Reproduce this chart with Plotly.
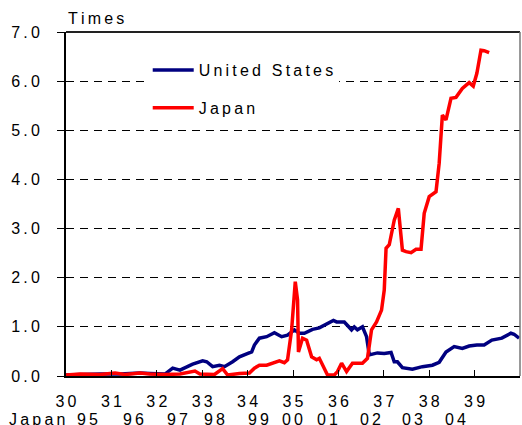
import plotly.graph_objects as go

THIN = "\u2009"


def spaced(s):
    # the reference text is letter-spaced; mimic with thin spaces
    return THIN.join(s)


# United States (x = Japanese era year scale, 30..40)
us_year = [30.0, 30.31, 30.75, 31.19, 31.63, 31.85, 32.07, 32.18, 32.35, 32.51,
           32.79, 33.01, 33.10, 33.23, 33.38, 33.49, 33.67, 33.82, 33.98, 34.09,
           34.15, 34.26, 34.42, 34.59, 34.75, 34.88, 35.03, 35.14, 35.25, 35.43,
           35.58, 35.76, 35.89, 35.96, 36.13, 36.29, 36.35, 36.42, 36.53, 36.62,
           36.68, 36.86, 37.01, 37.16, 37.23, 37.30, 37.41, 37.63, 37.85, 38.07,
           38.22, 38.37, 38.55, 38.73, 38.88, 39.05, 39.21, 39.38, 39.60, 39.80,
           39.87, 39.98]
us_ratio = [0.02, 0.03, 0.04, 0.04, 0.06, 0.05, 0.04, 0.04, 0.16, 0.12,
            0.24, 0.31, 0.29, 0.19, 0.22, 0.19, 0.29, 0.39, 0.45, 0.49,
            0.63, 0.77, 0.80, 0.88, 0.80, 0.83, 0.94, 0.87, 0.87, 0.95,
            0.98, 1.06, 1.13, 1.10, 1.10, 0.94, 1.00, 0.94, 1.00, 0.80,
            0.43, 0.47, 0.46, 0.48, 0.29, 0.29, 0.17, 0.14, 0.19, 0.22,
            0.28, 0.49, 0.60, 0.56, 0.61, 0.63, 0.63, 0.73, 0.77, 0.87,
            0.85, 0.77]

# Japan
jp_year = [30.0, 30.31, 30.75, 31.08, 31.30, 31.63, 31.85, 32.18, 32.51, 32.84,
           32.95, 33.27, 33.45, 33.56, 33.82, 34.04, 34.15, 34.26, 34.42, 34.55,
           34.70, 34.81, 34.88, 34.97, 35.05, 35.10, 35.12, 35.21, 35.30, 35.41,
           35.52, 35.58, 35.69, 35.76, 35.91, 35.98, 36.07, 36.18, 36.31, 36.53,
           36.64, 36.73, 36.84, 36.95, 37.01, 37.05, 37.12, 37.23, 37.32, 37.41,
           37.49, 37.60, 37.71, 37.82, 37.89, 38.00, 38.15, 38.22, 38.29, 38.37,
           38.48, 38.59, 38.73, 38.88, 38.97, 39.05, 39.14, 39.21, 39.32]
jp_ratio = [0.02, 0.04, 0.03, 0.06, 0.03, 0.06, 0.04, 0.03, 0.04, 0.10,
            0.04, 0.03, 0.15, 0.02, 0.05, 0.06, 0.16, 0.22, 0.22, 0.26,
            0.31, 0.27, 0.33, 0.94, 1.92, 1.55, 0.49, 0.77, 0.73, 0.39,
            0.33, 0.36, 0.16, 0.02, 0.02, 0.09, 0.26, 0.09, 0.26, 0.26,
            0.36, 0.94, 1.10, 1.34, 1.75, 2.60, 2.67, 3.17, 3.41, 2.56,
            2.53, 2.51, 2.58, 2.58, 3.31, 3.65, 3.75, 4.33, 5.31, 5.21,
            5.65, 5.67, 5.85, 5.97, 5.90, 6.16, 6.63, 6.62, 6.58]

X_MIN, X_MAX = 30, 40
y_ticks = [0, 1, 2, 3, 4, 5, 6, 7]
x_ticks = [30, 31, 32, 33, 34, 35, 36, 37, 38, 39]
x_tick_labels = ["30", "31", "32", "33", "34", "35", "36", "37", "38", "39"]
us_row_labels = ["Japan", "95", "96", "97", "98", "99", "00", "01", "02", "03", "04"]
us_row_pos = [29.37, 30.48, 31.49, 32.46, 33.27, 34.24, 34.99, 35.76, 36.70, 37.63, 38.57]

FONT = "Liberation Sans, Arial, sans-serif"
NAVY = "#000080"
RED = "#FF0000"

fig = go.Figure()
fig.add_trace(go.Scatter(
    x=us_year, y=us_ratio, mode="lines", name=spaced("United States"),
    legendgroup="us", line=dict(color=NAVY, width=3.5),
))
fig.add_trace(go.Scatter(
    x=jp_year, y=jp_ratio, mode="lines", name=spaced("Japan"),
    legendgroup="jp", line=dict(color=RED, width=3.5),
))

annotations = [dict(
    text=spaced("Times"), xref="paper", yref="paper", x=0.0, y=1.04,
    xanchor="left", yanchor="middle", showarrow=False,
    font=dict(size=16, color="black", family=FONT),
)]
# second row of x labels; paper coords so "Japan" left of the axis still shows
for lab, pos in zip(us_row_labels, us_row_pos):
    annotations.append(dict(
        text=spaced(lab), xref="paper", yref="paper",
        x=(pos - X_MIN) / (X_MAX - X_MIN), y=-0.127,
        xanchor="center", yanchor="middle", showarrow=False,
        font=dict(size=16, color="black", family=FONT),
    ))

fig.update_layout(
    width=522, height=425,
    paper_bgcolor="white", plot_bgcolor="white",
    font=dict(family=FONT, size=16, color="black"),
    margin=dict(l=66, r=2, t=32, b=49, autoexpand=False),
    showlegend=True,
    legend=dict(
        x=0.18, y=0.939, xanchor="left", yanchor="top",
        bgcolor="white", borderwidth=0, tracegroupgap=14, itemwidth=41,
        font=dict(size=16, color="black", family=FONT),
    ),
    xaxis=dict(
        range=[X_MIN, X_MAX], tickvals=x_ticks,
        ticktext=[spaced(t) for t in x_tick_labels],
        ticks="inside", ticklen=6, tickcolor="black", tickwidth=1,
        showgrid=False, zeroline=False, automargin=False,
        showline=True, linecolor="black", linewidth=2,
        ticklabelstandoff=10, tickfont=dict(size=16),
    ),
    yaxis=dict(
        range=[0, 7], tickvals=y_ticks,
        ticktext=[spaced(f"{v:.1f}") for v in y_ticks],
        ticks="outside", ticklen=7, tickcolor="black", tickwidth=1,
        showgrid=True, gridcolor="black", gridwidth=1, griddash="8px,6px",
        zeroline=False, automargin=False,
        showline=True, linecolor="black", linewidth=2,
        ticklabelstandoff=14, tickfont=dict(size=16),
    ),
    shapes=[
        dict(type="line", xref="paper", yref="paper", x0=0, x1=1, y0=1, y1=1,
             line=dict(color="#222222", width=2)),
        dict(type="line", xref="paper", yref="paper", x0=1, x1=1, y0=0, y1=1,
             line=dict(color="#777777", width=1.5)),
    ],
    annotations=annotations,
)

# the page's default body margin would shift the figure by 8px
fig.write_html("out.html", config={"displayModeBar": False},
               post_script="document.body.style.margin='0';")
